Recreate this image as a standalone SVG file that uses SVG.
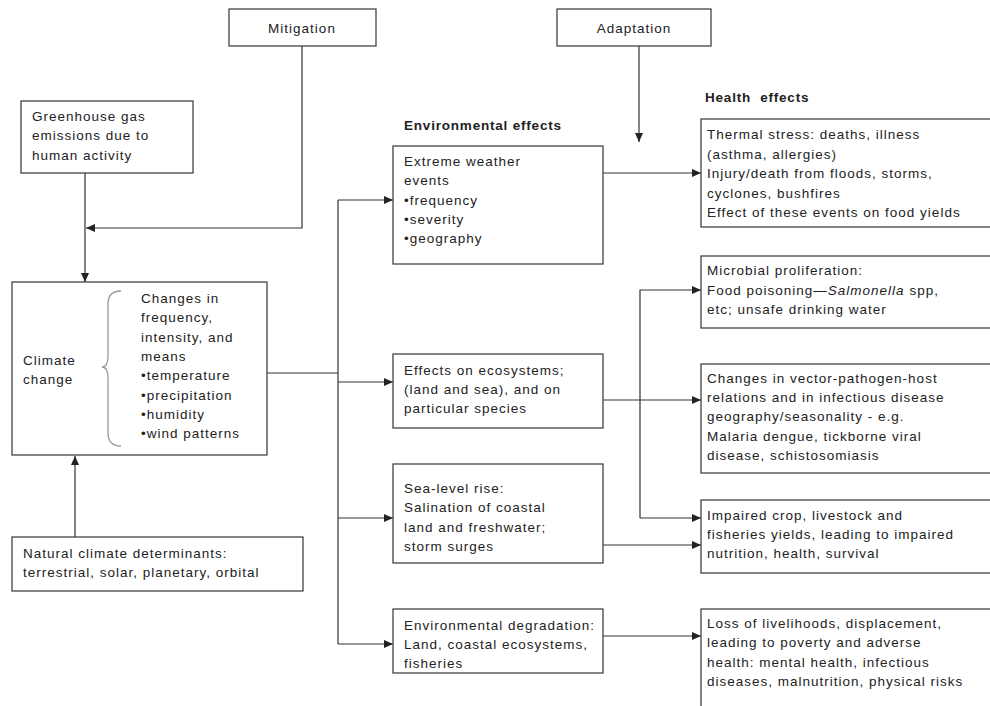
<svg xmlns="http://www.w3.org/2000/svg" width="990" height="706" viewBox="0 0 990 706">
<defs>
<marker id="ah" markerUnits="userSpaceOnUse" markerWidth="10" markerHeight="8" refX="9" refY="4" orient="auto">
<path d="M0,0 L9,4 L0,8 z" fill="#222"/>
</marker>
<style>
.box{fill:#fff;stroke:#444;stroke-width:1.3}
.t{font-family:"Liberation Sans",Arial,sans-serif;font-size:13.5px;letter-spacing:1px;fill:#222}
.h{font-family:"Liberation Sans",Arial,sans-serif;font-size:13.5px;font-weight:bold;letter-spacing:0.8px;fill:#222;white-space:pre}
.c{fill:none;stroke:#333;stroke-width:1.2}
.a{fill:none;stroke:#333;stroke-width:1.2;marker-end:url(#ah)}
</style>
</defs>
<rect width="990" height="706" fill="#fff"/>

<g id="connectors">
<path class="a" d="M302,46 V228 H86"/>
<path class="a" d="M85,173 V282"/>
<path class="a" d="M75,537 V456"/>
<path class="c" d="M267,373 H338"/>
<path class="c" d="M338,200 V644"/>
<path class="a" d="M338,200 H393"/>
<path class="a" d="M338,382 H393"/>
<path class="a" d="M338,518 H393"/>
<path class="a" d="M338,644 H393"/>
<path class="a" d="M639,46 V142"/>
<path class="a" d="M603,173 H701"/>
<path class="a" d="M603,400 H701"/>
<path class="a" d="M640,518 V290 H701"/>
<path class="a" d="M640,518 H701"/>
<path class="a" d="M603,545 H701"/>
<path class="a" d="M603,636 H701"/>
</g>

<g id="mitigation">
<rect class="box" x="229" y="9" width="147" height="37"/>
<text class="t" x="302" y="33" text-anchor="middle">Mitigation</text>
</g>

<g id="adaptation">
<rect class="box" x="557" y="9" width="154" height="37"/>
<text class="t" x="634" y="33" text-anchor="middle">Adaptation</text>
</g>

<g id="greenhouse">
<rect class="box" x="21" y="101" width="172" height="72"/>
<text class="t" x="32" y="121">Greenhouse gas</text>
<text class="t" x="32" y="140">emissions due to</text>
<text class="t" x="32" y="160">human activity</text>
</g>

<g id="climate">
<rect class="box" x="12" y="282" width="255" height="173"/>
<text class="t" x="23" y="365">Climate</text>
<text class="t" x="23" y="384">change</text>
<path d="M121,291 Q108,291 108,304 L108,356 Q108,367 102,367 Q108,367 108,378 L108,433 Q108,446 121,446" fill="none" stroke="#999" stroke-width="1.3"/>
<text class="t" x="141" y="303">Changes in</text>
<text class="t" x="141" y="322">frequency,</text>
<text class="t" x="141" y="342">intensity, and</text>
<text class="t" x="141" y="361">means</text>
<text class="t" x="141" y="380">•temperature</text>
<text class="t" x="141" y="400">•precipitation</text>
<text class="t" x="141" y="419">•humidity</text>
<text class="t" x="141" y="438">•wind patterns</text>
</g>

<g id="natural">
<rect class="box" x="12" y="537" width="291" height="54"/>
<text class="t" x="23" y="558">Natural climate determinants:</text>
<text class="t" x="23" y="577">terrestrial, solar, planetary, orbital</text>
</g>

<g id="env-heading">
<text class="h" x="404" y="130">Environmental effects</text>
</g>
<g id="health-heading">
<text class="h" x="705" y="102" xml:space="preserve">Health  effects</text>
</g>

<g id="extreme">
<rect class="box" x="393" y="146" width="210" height="118"/>
<text class="t" x="404" y="166">Extreme weather</text>
<text class="t" x="404" y="185">events</text>
<text class="t" x="404" y="205">•frequency</text>
<text class="t" x="404" y="224">•severity</text>
<text class="t" x="404" y="243">•geography</text>
</g>

<g id="ecosystems">
<rect class="box" x="393" y="354" width="210" height="74"/>
<text class="t" x="404" y="375">Effects on ecosystems;</text>
<text class="t" x="404" y="394">(land and sea), and on</text>
<text class="t" x="404" y="413">particular species</text>
</g>

<g id="sealevel">
<rect class="box" x="393" y="464" width="210" height="99"/>
<text class="t" x="404" y="493">Sea-level rise:</text>
<text class="t" x="404" y="512">Salination of coastal</text>
<text class="t" x="404" y="532">land and freshwater;</text>
<text class="t" x="404" y="551">storm surges</text>
</g>

<g id="degradation">
<rect class="box" x="393" y="609" width="210" height="64"/>
<text class="t" x="404" y="630">Environmental degradation:</text>
<text class="t" x="404" y="649">Land, coastal ecosystems,</text>
<text class="t" x="404" y="668">fisheries</text>
</g>

<g id="thermal">
<rect class="box" x="701" y="119" width="295" height="108"/>
<text class="t" x="707" y="139">Thermal stress: deaths, illness</text>
<text class="t" x="707" y="159">(asthma, allergies)</text>
<text class="t" x="707" y="178">Injury/death from floods, storms,</text>
<text class="t" x="707" y="198">cyclones, bushfires</text>
<text class="t" x="707" y="217">Effect of these events on food yields</text>
</g>

<g id="microbial">
<rect class="box" x="701" y="256" width="295" height="72"/>
<text class="t" x="707" y="275">Microbial proliferation:</text>
<text class="t" x="707" y="295">Food poisoning—<tspan font-style="italic">Salmonella</tspan> spp,</text>
<text class="t" x="707" y="314">etc; unsafe drinking water</text>
</g>

<g id="vector">
<rect class="box" x="701" y="364" width="295" height="109"/>
<text class="t" x="707" y="383">Changes in vector-pathogen-host</text>
<text class="t" x="707" y="402">relations and in infectious disease</text>
<text class="t" x="707" y="421">geography/seasonality - e.g.</text>
<text class="t" x="707" y="441">Malaria dengue, tickborne viral</text>
<text class="t" x="707" y="460">disease, schistosomiasis</text>
</g>

<g id="impaired">
<rect class="box" x="701" y="500" width="295" height="73"/>
<text class="t" x="707" y="520">Impaired crop, livestock and</text>
<text class="t" x="707" y="539">fisheries yields, leading to impaired</text>
<text class="t" x="707" y="558">nutrition, health, survival</text>
</g>

<g id="loss">
<rect class="box" x="701" y="609" width="295" height="110"/>
<text class="t" x="707" y="628">Loss of livelihoods, displacement,</text>
<text class="t" x="707" y="647">leading to poverty and adverse</text>
<text class="t" x="707" y="667">health: mental health, infectious</text>
<text class="t" x="707" y="686">diseases, malnutrition, physical risks</text>
</g>
</svg>
